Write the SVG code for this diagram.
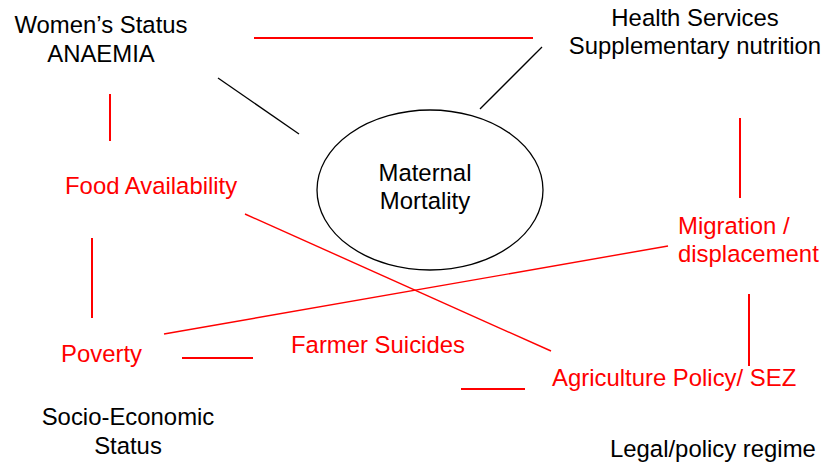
<svg xmlns="http://www.w3.org/2000/svg" width="825" height="466" viewBox="0 0 825 466">
<style>
text{font-family:"Liberation Sans",Arial,sans-serif;font-size:23.9px}
.k{fill:#000}
.r{fill:#ff0000}
.m{text-anchor:middle}
.rl{stroke:#ff0000;stroke-width:2;fill:none}
.rt{stroke:#ff0000;stroke-width:1.4;fill:none}
.bl{stroke:#000;stroke-width:1.3;fill:none}
</style>
<rect width="825" height="466" fill="#fff"/>
<g id="connectors">
<line class="rl" x1="254" y1="38" x2="533" y2="38"/>
<line class="bl" x1="218" y1="78" x2="299" y2="134"/>
<line class="bl" x1="480" y1="109" x2="542" y2="47"/>
<line class="rl" x1="110" y1="94" x2="110" y2="141"/>
<line class="rl" x1="740" y1="118" x2="740" y2="198"/>
<line class="rt" x1="245" y1="214" x2="551" y2="351"/>
<line class="rl" x1="92" y1="238" x2="92" y2="318"/>
<line class="rt" x1="164" y1="334" x2="668" y2="246"/>
<line class="rl" x1="182" y1="358" x2="253" y2="358"/>
<line class="rl" x1="461" y1="389" x2="525" y2="389"/>
<line class="rl" x1="749" y1="294" x2="749" y2="366"/>
</g>
<g id="womens-status">
<text class="k m" x="101" y="33">Women’s Status</text>
<text class="k m" x="101" y="62">ANAEMIA</text>
</g>
<g id="health-services">
<text class="k m" x="695" y="26">Health Services</text>
<text class="k m" x="695" y="54">Supplementary nutrition</text>
</g>
<g id="maternal-mortality">
<ellipse cx="430" cy="190" rx="113" ry="80" fill="none" stroke="#000" stroke-width="1.3"/>
<text class="k m" x="425" y="181">Maternal</text>
<text class="k m" x="425" y="209">Mortality</text>
</g>
<g id="food-availability">
<text class="r" x="65" y="194">Food Availability</text>
</g>
<g id="migration">
<text class="r" x="678" y="234">Migration /</text>
<text class="r" x="678" y="262">displacement</text>
</g>
<g id="poverty">
<text class="r" x="61" y="362">Poverty</text>
</g>
<g id="farmer-suicides">
<text class="r" x="291" y="353">Farmer Suicides</text>
</g>
<g id="agriculture-policy">
<text class="r" x="552" y="386">Agriculture Policy/ SEZ</text>
</g>
<g id="socio-economic">
<text class="k m" x="128" y="425">Socio-Economic</text>
<text class="k m" x="128" y="454">Status</text>
</g>
<g id="legal-policy">
<text class="k" x="610" y="457">Legal/policy regime</text>
</g>
</svg>
